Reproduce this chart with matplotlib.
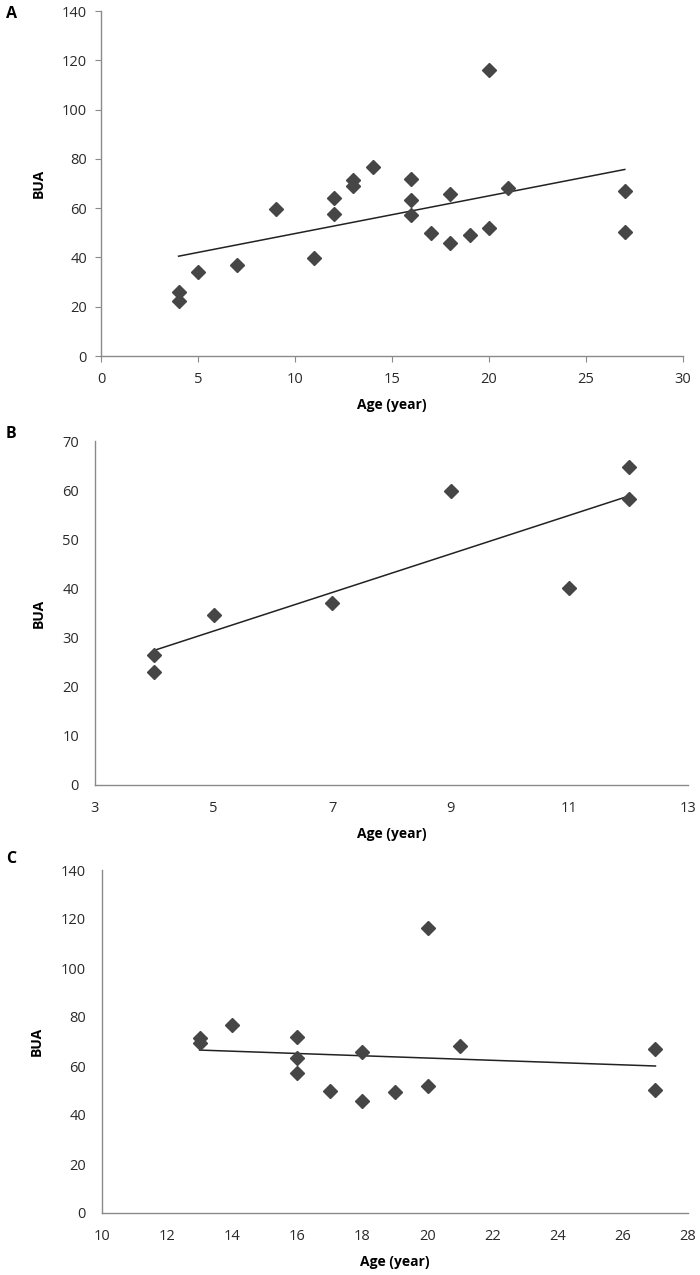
import matplotlib
matplotlib.use("Agg")
import matplotlib.pyplot as plt

plt.rcParams['font.family'] = ['Open Sans', 'DejaVu Sans']

# Panel A: all subjects
age_a = [4, 4, 5, 7, 9, 11, 12, 12, 13, 13, 14, 16, 16, 16, 17, 18, 18, 19, 20, 20, 21, 27, 27]
bua_a = [26.1, 22.3, 34.2, 36.9, 59.5, 39.6, 64.3, 57.8, 71.4, 69.1, 76.8, 71.8, 63.2, 57.2,
         49.9, 65.9, 45.9, 49.3, 116.2, 51.8, 68.2, 66.9, 50.4]
trend_a_x = [4, 27]
trend_a_y = [40.5, 75.7]

# Panel B: age <= 12
age_b = [4, 4, 5, 7, 9, 11, 12, 12]
bua_b = [26.4, 23.0, 34.6, 37.1, 59.8, 40.0, 64.7, 58.1]
trend_b_x = [4, 12]
trend_b_y = [27.4, 58.8]

# Panel C: age >= 13
age_c = [13, 13, 14, 16, 16, 16, 17, 18, 18, 19, 20, 20, 21, 27, 27]
bua_c = [71.4, 69.2, 76.7, 71.8, 63.1, 57.2, 49.7, 65.9, 45.8, 49.2, 116.3, 51.9, 68.0, 66.9, 50.3]
trend_c_x = [13, 27]
trend_c_y = [66.5, 60.0]

panels = [
    dict(label='A', x=age_a, y=bua_a, tx=trend_a_x, ty=trend_a_y,
         xlim=(0, 30), xticks=[0, 5, 10, 15, 20, 25, 30], ylim=(0, 140),
         yticks=[0, 20, 40, 60, 80, 100, 120, 140], ticklen=4.3, xpad=7, ypad=5.7,
         pos=[101/700, 1-356/1275, (683-101)/700, (356-11)/1275], lab_y=1-6/1275),
    dict(label='B', x=age_b, y=bua_b, tx=trend_b_x, ty=trend_b_y,
         xlim=(3, 13), xticks=[3, 5, 7, 9, 11, 13], ylim=(0, 70),
         yticks=[0, 10, 20, 30, 40, 50, 60, 70], ticklen=0, xpad=11.5, ypad=11.5,
         pos=[95/700, 1-785/1275, (688-95)/700, (785-441)/1275], lab_y=1-426/1275),
    dict(label='C', x=age_c, y=bua_c, tx=trend_c_x, ty=trend_c_y,
         xlim=(10, 28), xticks=[10, 12, 14, 16, 18, 20, 22, 24, 26, 28], ylim=(0, 140),
         yticks=[0, 20, 40, 60, 80, 100, 120, 140], ticklen=0, xpad=11.5, ypad=11.5,
         pos=[102/700, 1-1213/1275, (688-102)/700, (1213-870)/1275], lab_y=1-851/1275),
]

fig = plt.figure(figsize=(7, 12.75), dpi=100)
for p in panels:
    ax = fig.add_axes(p['pos'])
    ax.plot(p['tx'], p['ty'], color='#222222', lw=1.1, zorder=2)
    ax.plot(p['x'], p['y'], linestyle='none', marker='D', markersize=7,
            color='#464646', markeredgecolor='#464646', zorder=3, clip_on=False)
    ax.set_xlim(*p['xlim'])
    ax.set_ylim(*p['ylim'])
    ax.set_xticks(p['xticks'])
    ax.set_yticks(p['yticks'])
    for s in ['top', 'right']:
        ax.spines[s].set_visible(False)
    for s in ['left', 'bottom']:
        ax.spines[s].set_color('#8a8a8a')
        ax.spines[s].set_linewidth(1.0)
    ax.tick_params(direction='out', length=p['ticklen'], width=0.8, color='#8a8a8a',
                   labelsize=10.5, labelcolor='#2a2a2a')
    ax.tick_params(axis='x', pad=p['xpad'])
    ax.tick_params(axis='y', pad=p['ypad'])
    ax.set_xlabel('Age (year)', fontsize=10, fontweight='bold', labelpad=8)
    ax.set_ylabel('BUA', fontsize=10, fontweight='bold', labelpad=12)
    fig.text(6/700, p['lab_y'], p['label'], fontsize=11.5, fontweight='bold',
             ha='left', va='top')

fig.savefig('out.png', dpi=100, facecolor='white')
